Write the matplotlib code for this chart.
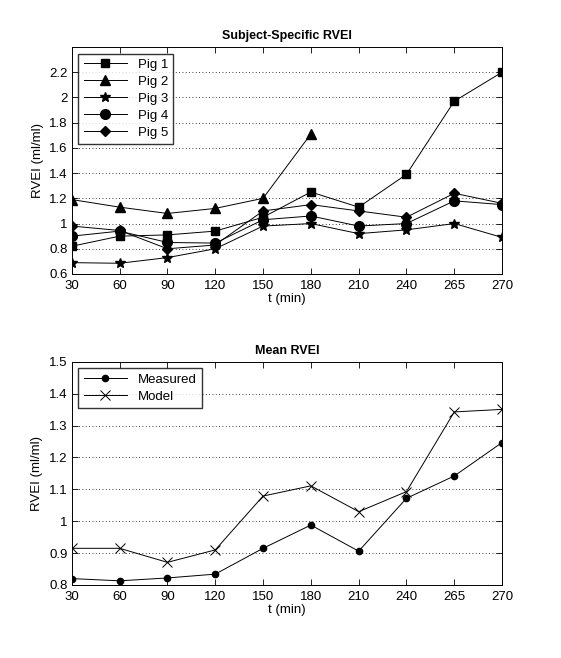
import numpy as np
import matplotlib
matplotlib.use("Agg")
import matplotlib.pyplot as plt

# time points (min), plotted as equally spaced categories
times = ['30', '60', '90', '120', '150', '180', '210', '240', '265', '270']

# subject specific RVEI (ml/ml)
pig1 = [0.82, 0.90, 0.91, 0.94, 1.05, 1.25, 1.13, 1.39, 1.97, 2.20]
pig2 = [1.19, 1.13, 1.08, 1.12, 1.20, 1.71]
pig3 = [0.69, 0.685, 0.73, 0.80, 0.98, 1.00, 0.92, 0.95, 1.00, 0.89]
pig4 = [0.90, 0.94, 0.85, 0.845, 1.03, 1.06, 0.98, 1.00, 1.18, 1.15]
pig5 = [0.98, 0.945, 0.80, 0.83, 1.10, 1.15, 1.10, 1.05, 1.24, 1.16]

# mean RVEI
measured = [0.82, 0.813, 0.822, 0.834, 0.915, 0.988, 0.906, 1.072, 1.142, 1.247]
model = [0.915, 0.915, 0.871, 0.91, 1.079, 1.111, 1.03, 1.093, 1.343, 1.351]

plt.rcParams['font.family'] = ['Liberation Sans', 'DejaVu Sans']
plt.rcParams['font.size'] = 9.5

fig = plt.figure(figsize=(5.61, 6.58), dpi=100)
ax1 = fig.add_axes([0.128, 0.5836, 0.767, 0.345])
ax2 = fig.add_axes([0.128, 0.111, 0.767, 0.339])

x = np.arange(len(times))

#top panel
ax1.plot(x, pig1, 'k-', marker='s', markersize=6, lw=0.7, label='Pig 1')
ax1.plot(x[:len(pig2)], pig2, 'k-', marker='^', markersize=7.5, lw=0.7, label='Pig 2')
ax1.plot(x, pig3, 'k-', marker='*', markersize=7.5, lw=0.7, label='Pig 3')
ax1.plot(x, pig4, 'k-', marker='o', markersize=7, lw=0.7, label='Pig 4')
ax1.plot(x, pig5, 'k-', marker='D', markersize=5.5, lw=0.7, label='Pig 5')
ax1.set_ylim(0.6, 2.4)
ax1.set_yticks(np.arange(0.6, 2.21, 0.2))
ax1.set_yticklabels(['0.6', '0.8', '1', '1.2', '1.4', '1.6', '1.8', '2', '2.2'])
ax1.set_title('Subject-Specific RVEI', fontweight='bold', fontsize=9)
ax1.set_ylabel('RVEI (ml/ml)')
ax1.set_xlabel('t (min)', labelpad=1)
ax1.legend(loc='upper left', frameon=True, fancybox=False, edgecolor='k',
           handlelength=3.3, borderaxespad=0.5, labelspacing=0.35, fontsize=9.5)

#bottom panel
ax2.plot(x, measured, 'k-', marker='o', markersize=4.5, lw=0.7, label='Measured')
ax2.plot(x, model, 'k-', marker='x', markersize=6.5, mew=0.7, lw=0.7, label='Model')
ax2.set_ylim(0.8, 1.5)
ax2.set_yticks(np.arange(0.8, 1.51, 0.1))
ax2.set_yticklabels(['0.8', '0.9', '1', '1.1', '1.2', '1.3', '1.4', '1.5'])
ax2.set_title('Mean RVEI', fontweight='bold', fontsize=9)
ax2.set_ylabel('RVEI (ml/ml)')
ax2.set_xlabel('t (min)', labelpad=1)
ax2.legend(loc='upper left', frameon=True, fancybox=False, edgecolor='k',
           handlelength=3.3, borderaxespad=0.5, labelspacing=0.35, fontsize=9.5)

for ax in (ax1, ax2):
    ax.set_xlim(0, len(times) - 1)
    ax.set_xticks(x)
    ax.set_xticklabels(times)
    ax.yaxis.grid(True, linestyle=(0, (1, 3)), color='k', linewidth=0.6)
    ax.tick_params(direction='in', top=True, right=True, length=4, width=0.6)
    ax.tick_params(axis='x', pad=4)
    ax.tick_params(axis='y', pad=3)
    for s in ax.spines.values():
        s.set_linewidth(0.7)
    ax.set_axisbelow(True)

fig.savefig('out.png', dpi=100)
